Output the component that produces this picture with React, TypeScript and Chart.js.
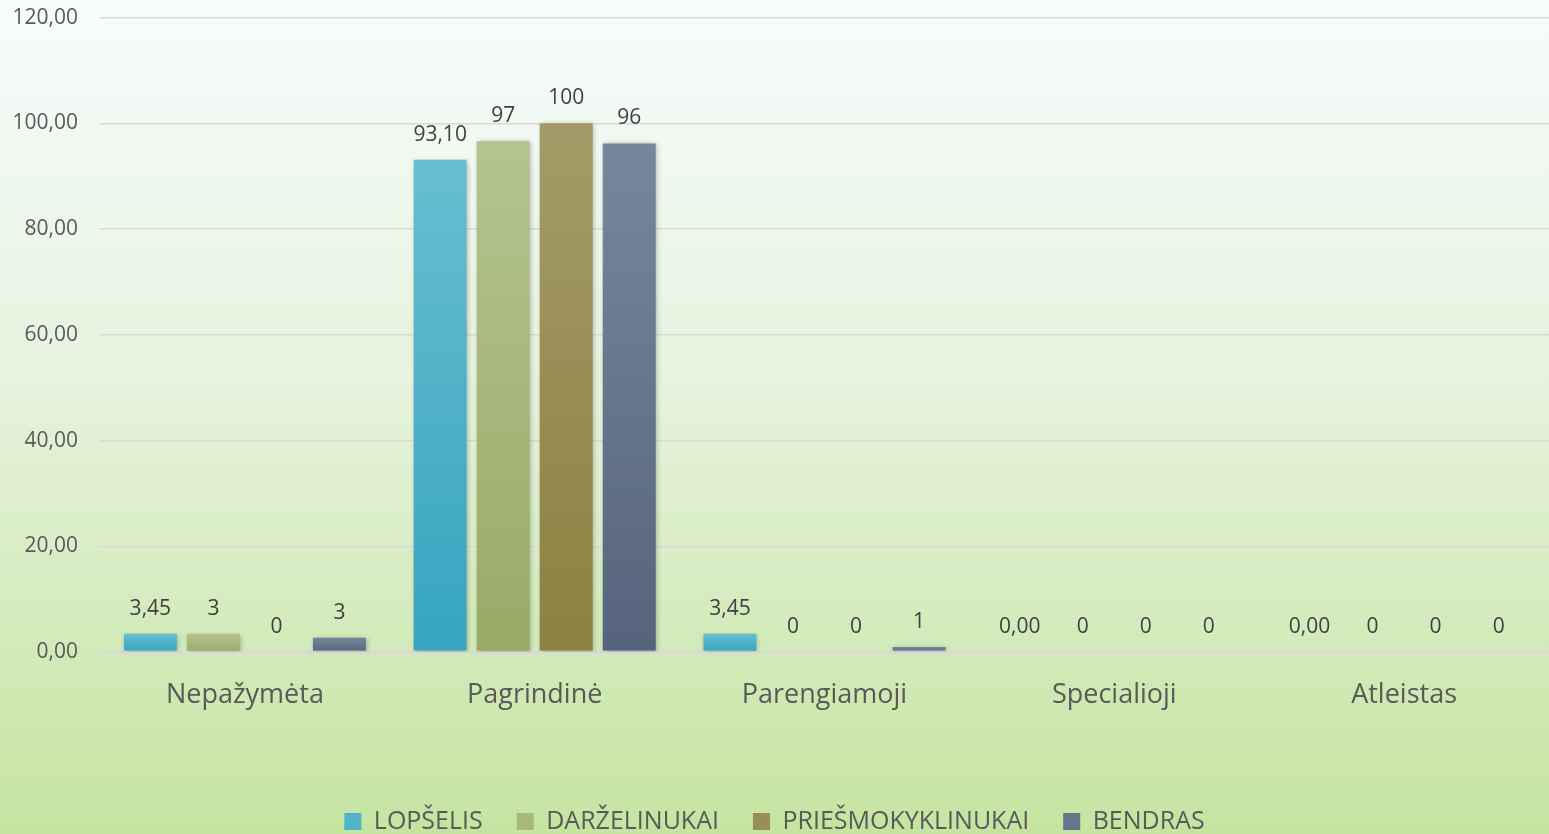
import React, { useEffect, useRef } from "react";
import { Chart, registerables } from "chart.js";

Chart.register(...registerables);

const categories = ["Nepažymėta", "Pagrindinė", "Parengiamoji", "Specialioji", "Atleistas"];
const seriesNames = ["LOPŠELIS", "DARŽELINUKAI", "PRIEŠMOKYKLINUKAI", "BENDRAS"];
const lopselis = [3.45, 93.1, 3.45, 0, 0];
const darzelinukai = [3.45, 96.6, 0, 0, 0];
const priesmokyklinukai = [0, 100, 0, 0, 0];
const bendras = [2.7, 96.2, 0.95, 0, 0];
const yTicks = [0, 20, 40, 60, 80, 100, 120];

const FONT = "'Open Sans', 'Noto Sans', sans-serif";
const SHIFT = 17;

const gradStops: [string, string][] = [
  ["#68bed1", "#35a5bf"],
  ["#b4c491", "#99aa66"],
  ["#a59b68", "#8b8140"],
  ["#77879b", "#55647c"],
];
const solid = ["#4fb3ca", "#a8b97c", "#998e55", "#66758c"];

function barGradient(i: number) {
  return (ctx: any) => {
    const chart = ctx.chart;
    const area = chart.chartArea;
    const ys = chart.scales?.y;
    if (!area || !ys || ctx.type !== "data") return solid[i];
    const v = ctx.raw as number;
    const top = ys.getPixelForValue(v);
    const bottom = ys.getPixelForValue(0);
    if (bottom - top < 1) return solid[i];
    const g = chart.ctx.createLinearGradient(0, top, 0, bottom);
    g.addColorStop(0, gradStops[i][0]);
    g.addColorStop(1, gradStops[i][1]);
    return g;
  };
}

const bgPlugin = {
  id: "bgGradient",
  beforeDraw(chart: any) {
    const { ctx, width, height } = chart;
    ctx.save();
    const g = ctx.createLinearGradient(0, SHIFT, 0, 834 + SHIFT);
    g.addColorStop(0, "#f7fcfd");
    g.addColorStop(0.45, "#e6f3de");
    g.addColorStop(1, "#c5e4a0");
    ctx.fillStyle = g;
    ctx.fillRect(0, 0, width, height);
    ctx.restore();
  },
};

const shadowPlugin = {
  id: "barShadow",
  beforeDatasetsDraw(chart: any) {
    const ctx = chart.ctx;
    ctx.save();
    ctx.shadowColor = "rgba(0,0,0,0.28)";
    ctx.shadowBlur = 5;
    ctx.shadowOffsetX = 1;
    ctx.shadowOffsetY = 1;
  },
  afterDatasetsDraw(chart: any) {
    chart.ctx.restore();
  },
};

const labelPlugin = {
  id: "valueLabels",
  afterDatasetsDraw(chart: any) {
    const ctx = chart.ctx;
    ctx.save();
    ctx.shadowColor = "transparent";
    ctx.font = `21px ${FONT}`;
    ctx.fillStyle = "#404040";
    ctx.textAlign = "center";
    ctx.textBaseline = "middle";
    chart.data.datasets.forEach((ds: any, di: number) => {
      const meta = chart.getDatasetMeta(di);
      meta.data.forEach((el: any, idx: number) => {
        const v = ds.data[idx] as number;
        const txt = di === 0 ? v.toFixed(2).replace(".", ",") : String(Math.round(v));
        ctx.fillText(txt, el.x, el.y - 25);
      });
    });
    ctx.restore();
  },
};

export default function App() {
  const ref = useRef<HTMLCanvasElement | null>(null);
  useEffect(() => {
    document.body.style.margin = "0";
    document.body.style.overflow = "hidden";
    if (!ref.current) return;
    const seriesData = [lopselis, darzelinukai, priesmokyklinukai, bendras];
    const chart = new Chart(ref.current, {
      type: "bar",
      data: {
        labels: categories,
        datasets: seriesNames.map((name, i) => ({
          label: name,
          data: seriesData[i],
          backgroundColor: barGradient(i),
          borderWidth: 0,
          categoryPercentage: 0.87,
          barPercentage: 0.84,
        })),
      },
      options: {
        animation: false,
        responsive: false,
        maintainAspectRatio: false,
        layout: { padding: { top: 0, left: 0, right: 0, bottom: 0 } },
        plugins: {
          tooltip: { enabled: false },
          legend: {
            position: "bottom",
            labels: {
              font: { family: FONT, size: 25 },
              color: "#595959",
              boxWidth: 17,
              boxHeight: 17,
              padding: 34,
              generateLabels: (c: any) =>
                seriesNames.map((n, i) => ({
                  text: n,
                  fillStyle: solid[i],
                  strokeStyle: "transparent",
                  lineWidth: 0,
                  datasetIndex: i,
                  fontColor: "#595959",
                })),
            },
          },
        },
        scales: {
          x: {
            grid: { display: false },
            border: { display: false },
            ticks: {
              font: { family: FONT, size: 27 },
              color: "#595959",
              padding: 19,
            },
            afterFit: (s: any) => {
              s.height = 123;
            },
          },
          y: {
            min: 0,
            max: 120,
            afterBuildTicks: (s: any) => {
              s.ticks = yTicks.map((v) => ({ value: v }));
            },
            afterFit: (s: any) => {
              s.width = 100;
            },
            grid: {
              color: "#d9d9d9",
              lineWidth: (c: any) => (c.tick && c.tick.value === 0 ? 3 : 1.5),
              drawTicks: false,
            },
            border: { display: false },
            ticks: {
              font: { family: FONT, size: 21 },
              color: "#595959",
              padding: 22,
              callback: (v: any) => Number(v).toFixed(2).replace(".", ","),
            },
          },
        },
      },
      plugins: [bgPlugin, shadowPlugin, labelPlugin],
    });
    return () => chart.destroy();
  }, []);
  return (
    <canvas
      ref={ref}
      width={1549}
      height={844 + SHIFT}
      style={{ display: "block", marginTop: -SHIFT }}
    />
  );
}
